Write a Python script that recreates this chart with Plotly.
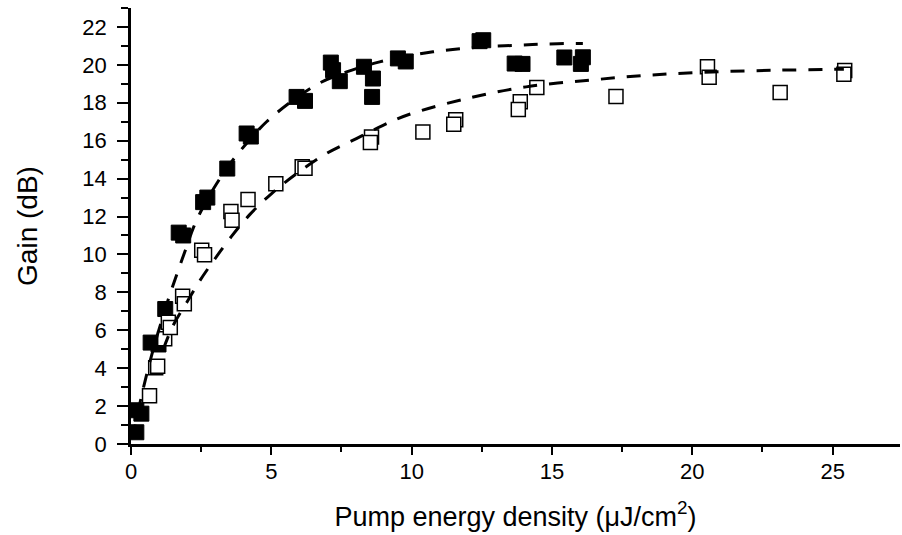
import plotly.graph_objects as go

# ---- data ----
filled_x = [0.19, 0.19, 0.37, 0.70, 0.98, 1.22, 1.70, 1.86, 2.57, 2.72, 3.43, 4.12, 4.27,
            5.90, 6.20, 7.12, 7.20, 7.44, 8.30, 8.62, 8.59, 9.51, 9.79, 12.42, 12.55,
            13.67, 13.95, 15.44, 16.10, 16.03]
filled_y = [0.62, 1.78, 1.60, 5.35, 5.25, 7.12, 11.15, 11.00, 12.76, 13.00, 14.53, 16.38, 16.22,
            18.31, 18.10, 20.12, 19.72, 19.14, 19.90, 19.28, 18.31, 20.34, 20.18, 21.25, 21.30,
            20.07, 20.05, 20.39, 20.40, 20.05]

open_x = [0.66, 0.88, 0.95, 1.20, 1.33, 1.40, 1.84, 1.90, 2.52, 2.62, 3.56, 3.60, 4.17,
          5.16, 6.10, 6.20, 8.57, 8.53, 10.40, 11.57, 11.50, 13.87, 13.80, 14.46, 17.28,
          20.54, 20.60, 23.13, 25.43, 25.40]
open_y = [2.55, 4.02, 4.10, 5.55, 6.42, 6.15, 7.80, 7.40, 10.22, 9.98, 12.27, 11.80, 12.90,
          13.73, 14.62, 14.55, 16.20, 15.90, 16.46, 17.11, 16.87, 18.05, 17.64, 18.81, 18.33,
          19.90, 19.35, 18.54, 19.70, 19.50]

fit_filled_x = [0.05, 0.37, 0.72, 1.05, 1.40, 1.68, 1.98, 2.22, 2.57, 3.05, 3.58, 4.20, 4.83,
                5.78, 6.73, 7.68, 8.86, 9.80, 10.76, 11.83, 12.80, 13.84, 14.80, 15.86, 16.10]
fit_filled_y = [0.30, 2.50, 4.60, 6.30, 7.95, 9.15, 10.40, 11.40, 12.50, 13.73, 14.88, 16.00, 17.00,
                18.14, 19.05, 19.63, 20.16, 20.45, 20.69, 20.87, 20.97, 21.04, 21.10, 21.13, 21.13]

fit_open_x = [1.15, 1.50, 1.98, 2.46, 2.99, 3.58, 4.23, 5.00, 5.90, 6.96, 8.03, 8.98, 9.90,
              11.95, 14.08, 16.33, 18.47, 20.72, 23.10, 25.40]
fit_open_y = [5.00, 6.25, 7.45, 8.63, 9.77, 10.95, 12.10, 13.20, 14.26, 15.32, 16.11, 16.81, 17.38,
              18.22, 18.84, 19.19, 19.46, 19.63, 19.72, 19.77]

x_ticks = [0, 5, 10, 15, 20, 25]
y_ticks = [0, 2, 4, 6, 8, 10, 12, 14, 16, 18, 20, 22]

FONT = "Liberation Sans, Arial, sans-serif"

fig = go.Figure()
fig.add_trace(go.Scatter(x=filled_x, y=filled_y, mode="markers", cliponaxis=False,
                         marker=dict(symbol="square", size=15, color="black",
                                     line=dict(color="black", width=1)),
                         showlegend=False))
fig.add_trace(go.Scatter(x=open_x, y=open_y, mode="markers", cliponaxis=False,
                         marker=dict(symbol="square", size=14, color="white",
                                     line=dict(color="black", width=1.5)),
                         showlegend=False))
fig.add_trace(go.Scatter(x=fit_filled_x, y=fit_filled_y, mode="lines",
                         line=dict(color="black", width=3, dash="14px,12px", shape="spline"),
                         showlegend=False))
fig.add_trace(go.Scatter(x=fit_open_x, y=fit_open_y, mode="lines",
                         line=dict(color="black", width=3, dash="14px,12px", shape="spline"),
                         showlegend=False))

fig.update_layout(
    width=902, height=535,
    margin=dict(l=131, r=2, t=8, b=91),
    paper_bgcolor="white", plot_bgcolor="white",
    font=dict(family=FONT, color="black"),
)
fig.update_xaxes(
    range=[0, 27.4], tickvals=x_ticks, ticktext=[str(v) for v in x_ticks],
    showline=True, linecolor="black", linewidth=2.5, mirror=False,
    ticks="outside", ticklen=8, tickwidth=2, tickcolor="black",
    minor=dict(dtick=2.5, tick0=0, ticks="outside", ticklen=5, tickwidth=2, tickcolor="black"),
    showgrid=False, zeroline=False,
    tickfont=dict(size=22, family=FONT, color="black"),
    ticklabelstandoff=-2,
    title=dict(text="Pump energy density (\u03bcJ/cm<sup>2</sup>)",
               font=dict(size=27, family=FONT, color="black"), standoff=24),
)
fig.update_yaxes(
    range=[0, 23], tickvals=y_ticks, ticktext=[str(v) for v in y_ticks],
    showline=True, linecolor="black", linewidth=2.5, mirror=False,
    ticks="outside", ticklen=11, tickwidth=2, tickcolor="black",
    minor=dict(dtick=1, tick0=0, ticks="outside", ticklen=7, tickwidth=2, tickcolor="black"),
    showgrid=False, zeroline=False,
    tickfont=dict(size=22, family=FONT, color="black"),
    ticklabelstandoff=6,
    title=dict(text="Gain (dB)", font=dict(size=28, family=FONT, color="black"), standoff=37),
)

fig.write_html("out.html")
